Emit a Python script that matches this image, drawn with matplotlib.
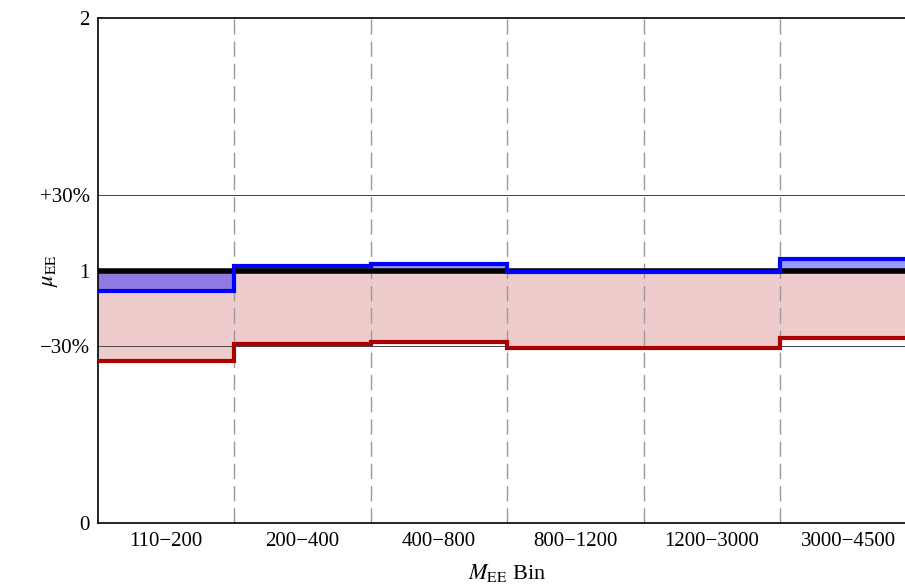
import numpy as np
import matplotlib
matplotlib.use('Agg')
import matplotlib.pyplot as plt

plt.rcParams['font.family'] = ['Liberation Serif', 'DejaVu Serif']
plt.rcParams['mathtext.fontset'] = 'stix'

bins = ['110\u2212200', '200\u2212400', '400\u2212800', '800\u22121200',
        '1200\u22123000', '3000\u22124500']
mu_blue = [0.919, 1.018, 1.025, 0.993, 0.993, 1.046]
mu_red = [0.644, 0.709, 0.718, 0.695, 0.695, 0.733]
ytick_vals = [0, 0.7, 1, 1.3, 2]
ytick_labels = ['0', '\u221230%', '1', '+30%', '2']

fig = plt.figure(figsize=(9.05, 5.84), dpi=100)
# axes run past the right edge of the picture, as in the reference
ax = fig.add_axes([0.1083, 0.1036, 0.9044, 0.8661])

edges = np.arange(len(bins) + 1)
ones = np.ones(len(bins))

ax.stairs(mu_red, edges, baseline=ones, fill=True, color='#aa0000', alpha=0.2, lw=0)
ax.stairs(mu_blue, edges, baseline=ones, fill=True, color='#0000ff', alpha=0.4, lw=0)

for y in [0.7, 1.3]:
    ax.axhline(y, color='#444444', lw=0.7, zorder=1)
for x in edges[1:-1]:
    ax.axvline(x, color='#999999', lw=1.0, ls=(0, (11, 5)), zorder=1)

ax.axhline(1, color='black', lw=4, zorder=3)
ax.stairs(mu_red, edges, baseline=None, color='#aa0000', lw=3, zorder=4)
ax.stairs(mu_blue, edges, baseline=None, color='#0000ff', lw=3, zorder=5)

ax.set_xlim(0, len(bins))
ax.set_ylim(0, 2)
ax.set_xticks(edges[:-1] + 0.5)
ax.set_xticklabels(bins, fontsize=15)
ax.tick_params(axis='x', length=0, pad=6)
ax.set_yticks(ytick_vals)
ax.set_yticklabels(ytick_labels, fontsize=15)
ax.tick_params(axis='y', direction='in', length=0, pad=6)
ax.spines['right'].set_visible(False)
for s in ['left', 'bottom', 'top']:
    ax.spines[s].set_linewidth(1.2)

ax.set_ylabel(r'$\mu_{\rm EE}$', fontsize=16)
ax.yaxis.set_label_coords(-0.046, 0.5)
ax.set_xlabel(r'$M_{\rm EE}$ Bin', fontsize=16, labelpad=8)

fig.savefig('out.png', dpi=100)
